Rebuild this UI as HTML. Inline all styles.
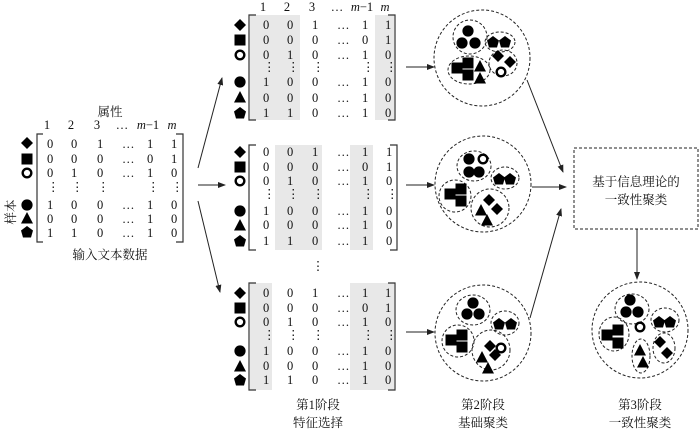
<!DOCTYPE html>
<html><head><meta charset="utf-8"><style>
html,body{margin:0;padding:0;background:#fff;}
svg{display:block;}
text{font-family:"Liberation Serif","Noto Serif CJK SC",serif;font-size:12.5px;fill:#111;}
.cj{font-family:"Liberation Serif","Noto Serif CJK SC",serif;font-size:12.5px;}
.d{fill:none;stroke:#222;stroke-width:1;stroke-dasharray:3,2;}
.br{fill:none;stroke:#333;stroke-width:1.2;}
.ar{stroke:#222;stroke-width:1;fill:none;marker-end:url(#ah);}
</style></head><body>
<svg width="700" height="431" viewBox="0 0 700 431" xmlns="http://www.w3.org/2000/svg">
<defs>
<marker id="ah" markerWidth="8" markerHeight="6" refX="7" refY="3" orient="auto" markerUnits="userSpaceOnUse"><path d="M0,0 L8,3 L0,6 Z" fill="#222"/></marker>
<symbol id="ci" viewBox="-6 -6 12 12" overflow="visible"><circle r="5.6" fill="#000"/></symbol>
<symbol id="ri" viewBox="-6 -6 12 12" overflow="visible"><circle r="4.3" fill="none" stroke="#000" stroke-width="2.4"/></symbol>
<symbol id="sq" viewBox="-6 -6 12 12" overflow="visible"><rect x="-5.5" y="-5.5" width="11" height="11" fill="#000"/></symbol>
<symbol id="tr" viewBox="-6 -6 12 12" overflow="visible"><path d="M0,-6 L6,5.5 L-6,5.5 Z" fill="#000"/></symbol>
<symbol id="di" viewBox="-6 -6 12 12" overflow="visible"><path d="M0,-6 L6,0 L0,6 L-6,0 Z" fill="#000"/></symbol>
<symbol id="pe" viewBox="-6 -6 12 12" overflow="visible"><path d="M0,-6 L6,-1.5 L4,5.5 L-4,5.5 L-6,-1.5 Z" fill="#000"/></symbol>
</defs>

<!-- input matrix -->
<text x="110" y="116" text-anchor="middle" class="cj">属性</text>
<text x="0" y="0" class="cj" text-anchor="middle" transform="translate(15,212) rotate(-90)">样本</text>
<g text-anchor="middle">
<text x="47" y="129">1</text><text x="71" y="129">2</text><text x="97" y="129">3</text><text x="122" y="129">…</text><text x="148" y="129"><tspan font-style="italic">m</tspan>−1</text><text x="172" y="129" font-style="italic">m</text>
</g>
<use href="#di" x="21" y="137" width="12" height="12"/>
<use href="#sq" x="21" y="153" width="12" height="12"/>
<use href="#ri" x="21" y="167" width="12" height="12"/>
<use href="#ci" x="21" y="199" width="12" height="12"/>
<use href="#tr" x="21" y="212" width="12" height="12"/>
<use href="#pe" x="21" y="226" width="12" height="12"/>
<path class="br" d="M43,134 H37 V242 H43"/><path class="br" d="M176,134 H183 V242 H176"/>
<g>
<text x="47 71 97 122 147 171" y="148">001…11</text>
<text x="47 71 97 122 147 171" y="163">000…01</text>
<text x="47 71 97 122 147 171" y="177">010…10</text>
<text x="47 71 97 147 171" y="191" font-size="10">⋮⋮⋮⋮⋮</text>
<text x="47 71 97 122 147 171" y="209">100…10</text>
<text x="47 71 97 122 147 171" y="223">000…10</text>
<text x="47 71 97 122 147 171" y="237">110…10</text>
</g>
<text x="110" y="259" text-anchor="middle" class="cj">输入文本数据</text>

<!-- arrows from input -->
<path class="ar" d="M198,168 L222,78"/>
<path class="ar" d="M198,185 L225,185"/>
<path class="ar" d="M198,201 L220,292"/>

<!-- top matrix -->
<rect x="250" y="15" width="50" height="105" fill="#e8e8e8"/>
<rect x="375" y="15" width="19" height="105" fill="#e8e8e8"/>
<g text-anchor="middle">
<text x="263" y="11">1</text><text x="287" y="11">2</text><text x="312" y="11">3</text><text x="337" y="11">…</text><text x="362" y="11"><tspan font-style="italic">m</tspan>−1</text><text x="385" y="11" font-style="italic">m</text>
</g>
<use href="#di" x="234" y="19" width="12" height="12"/>
<use href="#sq" x="234" y="34" width="12" height="12"/>
<use href="#ri" x="234" y="49" width="12" height="12"/>
<use href="#ci" x="234" y="76" width="12" height="12"/>
<use href="#tr" x="234" y="91" width="12" height="12"/>
<use href="#pe" x="234" y="107" width="12" height="12"/>
<path class="br" d="M256,15 H249 V120 H256"/><path class="br" d="M388,15 H395 V120 H388"/>
<text x="263 287 312 337 362 385" y="29">001…11</text>
<text x="263 287 312 337 362 385" y="44">000…01</text>
<text x="263 287 312 337 362 385" y="59">010…10</text>
<text x="263 287 312 362 385" y="71" font-size="10">⋮⋮⋮⋮⋮</text>
<text x="263 287 312 337 362 385" y="86">100…10</text>
<text x="263 287 312 337 362 385" y="102">000…10</text>
<text x="263 287 312 337 362 385" y="117">110…10</text>

<!-- middle matrix -->
<rect x="275" y="145" width="47" height="105" fill="#e8e8e8"/>
<rect x="350" y="145" width="23" height="105" fill="#e8e8e8"/>
<use href="#di" x="234" y="146" width="12" height="12"/>
<use href="#sq" x="234" y="161" width="12" height="12"/>
<use href="#ri" x="234" y="175" width="12" height="12"/>
<use href="#ci" x="234" y="205" width="12" height="12"/>
<use href="#tr" x="234" y="219" width="12" height="12"/>
<use href="#pe" x="234" y="235" width="12" height="12"/>
<path class="br" d="M256,145 H249 V250 H256"/><path class="br" d="M390,145 H397 V250 H390"/>
<text x="263 287 312 337 362 386" y="156">001…11</text>
<text x="263 287 312 337 362 386" y="171">000…01</text>
<text x="263 287 312 337 362 386" y="185">010…10</text>
<text x="263 287 312 362 386" y="198" font-size="10">⋮⋮⋮⋮⋮</text>
<text x="263 287 312 337 362 386" y="215">100…10</text>
<text x="263 287 312 337 362 386" y="229">000…10</text>
<text x="263 287 312 337 362 386" y="245">110…10</text>

<text x="318" y="270" font-size="10" text-anchor="middle">⋮</text>

<!-- bottom matrix -->
<rect x="250" y="283" width="22" height="107" fill="#e8e8e8"/>
<rect x="350" y="283" width="44" height="107" fill="#e8e8e8"/>
<use href="#di" x="234" y="287" width="12" height="12"/>
<use href="#sq" x="234" y="302" width="12" height="12"/>
<use href="#ri" x="234" y="316" width="12" height="12"/>
<use href="#ci" x="234" y="345" width="12" height="12"/>
<use href="#tr" x="234" y="360" width="12" height="12"/>
<use href="#pe" x="234" y="374" width="12" height="12"/>
<path class="br" d="M256,283 H249 V390 H256"/><path class="br" d="M388,283 H395 V390 H388"/>
<text x="263 287 312 337 362 385" y="297">001…11</text>
<text x="263 287 312 337 362 385" y="312">000…01</text>
<text x="263 287 312 337 362 385" y="326">010…10</text>
<text x="263 287 312 362 385" y="339" font-size="10">⋮⋮⋮⋮⋮</text>
<text x="263 287 312 337 362 385" y="355">100…10</text>
<text x="263 287 312 337 362 385" y="370">000…10</text>
<text x="263 287 312 337 362 385" y="384">110…10</text>

<text x="318" y="409" text-anchor="middle" class="cj">第1阶段</text>
<text x="318" y="427" text-anchor="middle" class="cj">特征选择</text>

<!-- arrows to clusters -->
<path class="ar" d="M406,67 L434,67"/>
<path class="ar" d="M406,185 L434,185"/>
<path class="ar" d="M406,332 L434,332"/>

<!-- top cluster -->
<circle class="d" cx="482" cy="58" r="48"/>
<ellipse class="d" cx="470" cy="37" rx="17" ry="17"/>
<ellipse class="d" cx="500" cy="42" rx="15" ry="10"/>
<ellipse class="d" cx="469" cy="70" rx="21" ry="14"/>
<ellipse class="d" cx="503" cy="63" rx="14" ry="13"/>
<use href="#ci" x="462" y="25" width="12" height="12"/>
<use href="#ci" x="456" y="37" width="12" height="12"/>
<use href="#ci" x="469" y="37" width="12" height="12"/>
<use href="#pe" x="487" y="36" width="12" height="12"/>
<use href="#pe" x="499" y="36" width="12" height="12"/>
<use href="#sq" x="451" y="62" width="12" height="12"/>
<use href="#sq" x="462" y="57" width="12" height="12"/>
<use href="#sq" x="462" y="69" width="12" height="12"/>
<use href="#tr" x="474" y="60" width="12" height="12"/>
<use href="#tr" x="474" y="72" width="12" height="12"/>
<use href="#di" x="492" y="50" width="12" height="12"/>
<use href="#di" x="504" y="56" width="12" height="12"/>
<use href="#ri" x="495" y="66" width="12" height="12"/>

<!-- middle cluster -->
<circle class="d" cx="483" cy="184" r="48"/>
<ellipse class="d" cx="474" cy="166" rx="17" ry="15"/>
<ellipse class="d" cx="505" cy="178" rx="14" ry="11"/>
<ellipse class="d" cx="455" cy="196" rx="16" ry="16"/>
<ellipse class="d" cx="490" cy="208" rx="19" ry="19"/>
<use href="#ci" x="463" y="153" width="12" height="12"/>
<use href="#ri" x="477" y="153" width="12" height="12"/>
<use href="#ci" x="463" y="166" width="12" height="12"/>
<use href="#ci" x="473" y="166" width="12" height="12"/>
<use href="#pe" x="493" y="173" width="12" height="12"/>
<use href="#pe" x="504" y="173" width="12" height="12"/>
<use href="#sq" x="444" y="188" width="12" height="12"/>
<use href="#sq" x="455" y="183" width="12" height="12"/>
<use href="#sq" x="455" y="195" width="12" height="12"/>
<use href="#di" x="483" y="194" width="12" height="12"/>
<use href="#di" x="491" y="203" width="12" height="12"/>
<use href="#tr" x="475" y="204" width="12" height="12"/>
<use href="#tr" x="481" y="214" width="12" height="12"/>

<!-- bottom cluster -->
<circle class="d" cx="483" cy="333" r="48"/>
<ellipse class="d" cx="473" cy="310" rx="17" ry="15"/>
<ellipse class="d" cx="505" cy="323" rx="14" ry="12"/>
<ellipse class="d" cx="458" cy="341" rx="16" ry="16"/>
<ellipse class="d" cx="491" cy="350" rx="19" ry="20"/>
<use href="#ci" x="467" y="297" width="12" height="12"/>
<use href="#ci" x="461" y="308" width="12" height="12"/>
<use href="#ci" x="473" y="308" width="12" height="12"/>
<use href="#pe" x="493" y="318" width="12" height="12"/>
<use href="#pe" x="505" y="318" width="12" height="12"/>
<use href="#sq" x="445" y="334" width="12" height="12"/>
<use href="#sq" x="456" y="329" width="12" height="12"/>
<use href="#sq" x="456" y="341" width="12" height="12"/>
<use href="#di" x="484" y="340" width="12" height="12"/>
<use href="#ri" x="495" y="342" width="12" height="12"/>
<use href="#di" x="489" y="349" width="12" height="12"/>
<use href="#tr" x="476" y="351" width="12" height="12"/>
<use href="#tr" x="482" y="362" width="12" height="12"/>

<text x="483" y="409" text-anchor="middle" class="cj">第2阶段</text>
<text x="483" y="427" text-anchor="middle" class="cj">基础聚类</text>

<!-- arrows to box -->
<path class="ar" d="M527,80 L563,172"/>
<path class="ar" d="M532,187 L566,187"/>
<path class="ar" d="M530,318 L561,209"/>

<!-- box -->
<rect class="d" x="574" y="148" width="124" height="81"/>
<text x="636" y="186" text-anchor="middle" class="cj">基于信息理论的</text>
<text x="636" y="204" text-anchor="middle" class="cj">一致性聚类</text>
<path class="ar" d="M637,229 L637,279"/>

<!-- final cluster -->
<circle class="d" cx="640" cy="330" r="48"/>
<ellipse class="d" cx="632" cy="309" rx="17" ry="15"/>
<ellipse class="d" cx="665" cy="320" rx="14" ry="12"/>
<ellipse class="d" cx="614" cy="334" rx="15" ry="17"/>
<ellipse class="d" cx="641" cy="356" rx="9" ry="17"/>
<ellipse class="d" cx="664" cy="348" rx="11" ry="15"/>
<use href="#ci" x="624" y="294" width="12" height="12"/>
<use href="#ci" x="620" y="306" width="12" height="12"/>
<use href="#ci" x="632" y="306" width="12" height="12"/>
<use href="#ri" x="634" y="321" width="12" height="12"/>
<use href="#pe" x="653" y="316" width="12" height="12"/>
<use href="#pe" x="664" y="316" width="12" height="12"/>
<use href="#sq" x="601" y="329" width="12" height="12"/>
<use href="#sq" x="612" y="324" width="12" height="12"/>
<use href="#sq" x="612" y="337" width="12" height="12"/>
<use href="#tr" x="634" y="344" width="12" height="12"/>
<use href="#tr" x="637" y="356" width="12" height="12"/>
<use href="#di" x="654" y="336" width="12" height="12"/>
<use href="#di" x="661" y="347" width="12" height="12"/>

<text x="640" y="409" text-anchor="middle" class="cj">第3阶段</text>
<text x="640" y="427" text-anchor="middle" class="cj">一致性聚类</text>
</svg>
</body></html>
